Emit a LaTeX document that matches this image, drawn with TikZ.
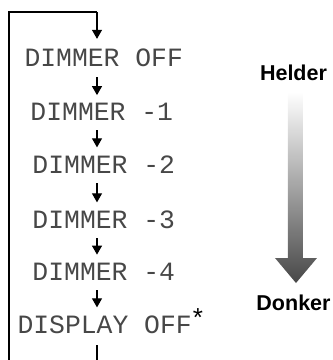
\documentclass[tikz,border=0pt]{standalone}
\usepackage{fontspec}
\setmainfont{Liberation Sans}
\newfontfamily\lcd{Liberation Mono}
\usetikzlibrary{arrows.meta}
\begin{document}
\begin{tikzpicture}[x=1pt,y=-1pt,
  lcdtext/.style={font=\lcd\fontsize{26.4}{30}\selectfont, text=black!72, inner sep=0pt, outer sep=0pt, anchor=base west},
  flow/.style={line width=1.2pt, draw=black},
  arr/.style={flow, -{Triangle[width=10pt,length=9pt]}},
  lbl/.style={font=\bfseries\fontsize{21.5}{24}\selectfont, anchor=base, inner sep=0pt}]
\useasboundingbox (0,0) rectangle (333,360);
% steps
\node[lcdtext] (r1) at (24.5,66)  {DIMMER OFF};
\node[lcdtext] (r2) at (30.5,120) {DIMMER -1};
\node[lcdtext] (r3) at (32.5,173) {DIMMER -2};
\node[lcdtext] (r4) at (32.5,228) {DIMMER -3};
\node[lcdtext] (r5) at (32.5,280) {DIMMER -4};
\node[lcdtext] (r6) at (17.5,333) {DISPLAY OFF};
\node[font=\fontsize{26}{28}\selectfont, inner sep=0pt, anchor=base] (ast) at (198,326) {*};
% loop
\coordinate (bl) at (9,360);
\coordinate (tl) at (9,12);
\coordinate (tr) at (97,12);
\coordinate (br) at (97,360);
\draw[flow] (bl) -- (tl) -- (tr);
\draw[arr, shorten >=9.5pt] (tr) -- (r1.north -| tr);
\draw[arr, shorten <=11pt, shorten >=7.5pt] (r1.south -| tr) -- (r2.north -| tr);
\draw[arr, shorten <=10pt, shorten >=8pt] (r2.south -| tr) -- (r3.north -| tr);
\draw[arr, shorten <=10pt, shorten >=8pt] (r3.south -| tr) -- (r4.north -| tr);
\draw[arr, shorten <=10pt, shorten >=8pt] (r4.south -| tr) -- (r5.north -| tr);
\draw[arr, shorten <=10pt, shorten >=8pt] (r5.south -| tr) -- (r6.north -| tr);
\draw[flow, shorten <=12pt] (r6.south -| br) -- (br);
% brightness scale
\node[lbl] (helder) at (293.5,80) {Helder};
\node[lbl] (donker) at (293.5,310) {Donker};
\shade[top color=white, bottom color=black!72]
  (288,92) -- (303,92) -- (303,258) -- (317,258) -- (296,283) -- (275,258) -- (288,258) -- cycle;
\end{tikzpicture}
\end{document}
